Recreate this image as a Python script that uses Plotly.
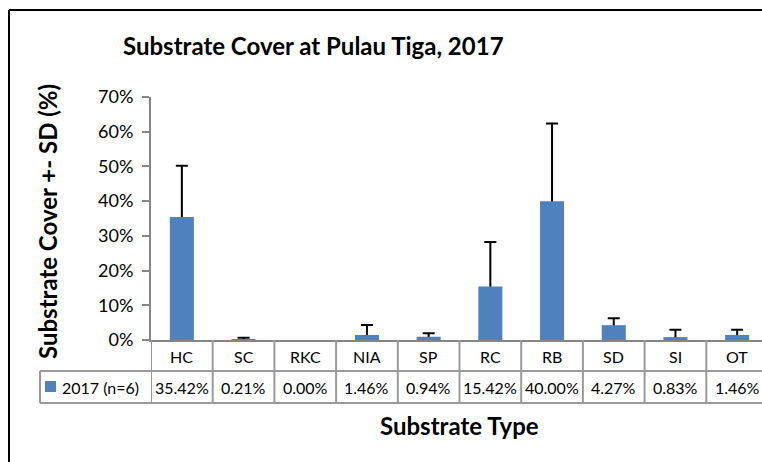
import plotly.graph_objects as go

# ---- data ----
categories = ["HC", "SC", "RKC", "NIA", "SP", "RC", "RB", "SD", "SI", "OT"]
cover = [35.42, 0.21, 0.00, 1.46, 0.94, 15.42, 40.00, 4.27, 0.83, 1.46]
sd = [14.8, 0.46, 0.0, 2.85, 1.0, 12.8, 22.4, 2.0, 2.14, 1.5]
y_ticks = [0, 10, 20, 30, 40, 50, 60, 70]
y_tick_labels = [f"{t}%" for t in y_ticks]
series_name = "2017 (n=6)"
chart_title = "Substrate Cover at Pulau Tiga, 2017"
y_title = "Substrate Cover +- SD (%)"
x_title = "Substrate Type"

# ---- layout geometry (screen pixels) ----
W, H = 762, 462
OFF = 0
L_s, T_s, B_s = 151, 97, 340          # plot area on screen
R_fig = W                              # plot area runs to figure's right edge
L, T, B = L_s - OFF, T_s - OFF, B_s - OFF
CAT_W = 61.7
FONT = "Lato, 'Open Sans', sans-serif"
BLUE = "#4F81BD"
GRID = "#9A9A9A"


def px2x(px):
    return (px - OFF - L) / (R_fig - L)


def py2y(py):
    return (B - (py - OFF)) / (B - T)


x_max = -0.5 + (R_fig - L) / CAT_W

# error bars only where an SD exists
err_x = [c for c, s in zip(categories, sd) if s > 0]
err_y = [v for v, s in zip(cover, sd) if s > 0]
err_plus = [s for s in sd if s > 0]
err_minus = [min(v, 0.5) for v, s in zip(cover, sd) if s > 0]

fig = go.Figure()
# carrier trace for error bars (drawn underneath the visible bars)
fig.add_trace(go.Bar(
    x=err_x, y=err_y, width=0.39,
    marker=dict(color="rgba(0,0,0,0)", line=dict(width=0)),
    error_y=dict(type="data", symmetric=False, array=err_plus,
                 arrayminus=err_minus, color="black", thickness=2, width=6),
    showlegend=False, hoverinfo="skip",
))
fig.add_trace(go.Bar(
    x=categories, y=cover, width=0.39, name=series_name,
    marker=dict(color=BLUE, line=dict(width=0)),
    showlegend=False,
))

shapes = []
# table vertical lines at category boundaries
for i in range(len(categories) + 1):
    xb = i - 0.5
    shapes.append(dict(type="line", xref="x", yref="paper", x0=xb, x1=xb,
                       y0=py2y(340), y1=py2y(403),
                       line=dict(color=GRID, width=2)))
# left legend-cell vertical line
shapes.append(dict(type="line", xref="paper", yref="paper",
                   x0=px2x(40), x1=px2x(40), y0=py2y(371), y1=py2y(403),
                   line=dict(color=GRID, width=2)))
# horizontal lines
for py in (371, 403):
    shapes.append(dict(type="line", xref="paper", yref="paper",
                       x0=px2x(40), x1=px2x(W + 20), y0=py2y(py), y1=py2y(py),
                       line=dict(color=GRID, width=2)))
# legend key square
shapes.append(dict(type="rect", xref="paper", yref="paper",
                   x0=px2x(45), x1=px2x(56), y0=py2y(381), y1=py2y(392),
                   fillcolor=BLUE, line=dict(width=0)))
# outer frame (left and top edges)
shapes.append(dict(type="line", xref="paper", yref="paper",
                   x0=px2x(9), x1=px2x(9), y0=py2y(10), y1=py2y(H + 20),
                   line=dict(color="black", width=2)))
shapes.append(dict(type="line", xref="paper", yref="paper",
                   x0=px2x(9), x1=px2x(W + 20), y0=py2y(10), y1=py2y(10),
                   line=dict(color="black", width=2)))

annotations = []
for c, v in zip(categories, cover):
    annotations.append(dict(x=c, xref="x", y=py2y(356), yref="paper",
                            text=c, showarrow=False,
                            font=dict(family=FONT, size=16, color="black"),
                            xanchor="center", yanchor="middle"))
    annotations.append(dict(x=c, xref="x", y=py2y(387), yref="paper",
                            text=f"{v:.2f}%", showarrow=False,
                            font=dict(family=FONT, size=16, color="black"),
                            xanchor="center", yanchor="middle"))
annotations.append(dict(x=px2x(60), xref="paper", y=py2y(387), yref="paper",
                        text=series_name, showarrow=False,
                        font=dict(family=FONT, size=16, color="black"),
                        xanchor="left", yanchor="middle"))
annotations.append(dict(x=px2x(313), xref="paper", y=py2y(45), yref="paper",
                        text=f"<b>{chart_title}</b>", showarrow=False,
                        font=dict(family=FONT, size=24, color="black"),
                        xanchor="center", yanchor="middle"))
annotations.append(dict(x=px2x(459), xref="paper", y=py2y(425), yref="paper",
                        text=f"<b>{x_title}</b>", showarrow=False,
                        font=dict(family=FONT, size=24, color="black"),
                        xanchor="center", yanchor="middle"))
annotations.append(dict(x=px2x(47), xref="paper", y=py2y(222), yref="paper",
                        text=f"<b>{y_title}</b>", showarrow=False, textangle=-90,
                        font=dict(family=FONT, size=24, color="black"),
                        xanchor="center", yanchor="middle"))

fig.update_layout(
    width=W, height=H,
    margin=dict(l=L, r=W - R_fig, t=T, b=H - B),
    paper_bgcolor="white", plot_bgcolor="white",
    barmode="overlay",
    showlegend=False,
    shapes=shapes, annotations=annotations,
    xaxis=dict(range=[-0.5, x_max], showticklabels=False, ticks="",
               categoryorder="array", categoryarray=categories,
               showline=True, linecolor="#868686", linewidth=2,
               showgrid=False, zeroline=False, fixedrange=True),
    yaxis=dict(range=[0, 70], tickvals=y_ticks, ticktext=y_tick_labels,
               ticks="outside", ticklen=7, tickwidth=2, tickcolor="#868686",
               showline=True, linecolor="#868686", linewidth=2,
               showgrid=False, zeroline=False,
               tickfont=dict(family=FONT, size=18, color="black"),
               ticklabelstandoff=5, fixedrange=True),
)

fig.write_html(
    "out.html",
    config={"displayModeBar": False},
    post_script="document.body.style.margin='0';document.body.style.overflow='hidden';",
)
